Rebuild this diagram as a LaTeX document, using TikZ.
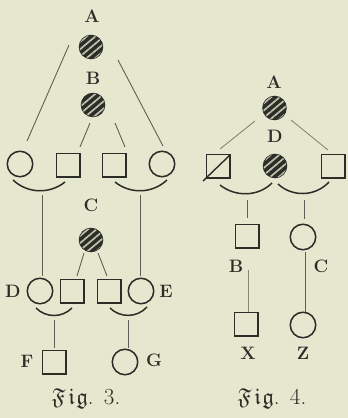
\documentclass[tikz,border=0pt]{standalone}
\usepackage{amssymb}
\usetikzlibrary{patterns.meta}
\definecolor{bg}{RGB}{229,231,207}
\definecolor{ink}{RGB}{45,45,40}
\definecolor{lin}{RGB}{95,95,88}
\newcommand{\frakfig}{$\mathfrak{F}\mkern2mu\mathfrak{i}\mkern1mu\mathfrak{g}$.}
\tikzset{
  sq/.style={draw=ink,line width=1.5pt,minimum size=23.5pt,inner sep=0pt},
  ci/.style={draw=ink,circle,line width=1.5pt,minimum size=25.5pt,inner sep=0pt},
  hat/.style={draw=ink,circle,line width=1.5pt,minimum size=23pt,inner sep=0pt,fill=ink,
    postaction={pattern={Lines[angle=40,distance=5.5pt,line width=1.7pt]},pattern color=bg!80!ink}},
  lab/.style={text=ink,font=\fontsize{18}{21}\selectfont\bfseries,inner sep=0pt},
  figcaption/.style={text=ink,font=\fontsize{23}{26}\selectfont,inner sep=0pt},
  con/.style={draw=lin,line width=0.9pt},
  arcl/.style={draw=ink,line width=1.5pt},
}
\begin{document}
\begin{tikzpicture}[x=1pt,y=-1pt]
\fill[bg] (0,0) rectangle (348,418);
\useasboundingbox (0,0) rectangle (348,418);
% ---------- Fig. 3 ----------
\node[lab] (lA3) at (92,16) {A};
\node[hat] (cA3) at (91,47) {};
\node[lab] (lB3) at (93,78) {B};
\node[hat] (cB3) at (93,105) {};
\node[ci] (p1) at (20,164) {};
\node[sq] (p2) at (68,165) {};
\node[sq] (p3) at (114,165) {};
\node[ci] (p4) at (162,164) {};
\coordinate (a1) at (69,45);  \coordinate (a2) at (27,141);
\coordinate (a3) at (118,60); \coordinate (a4) at (163,146);
\coordinate (b1) at (90,123); \coordinate (b2) at (80,147);
\coordinate (b3) at (115,123);\coordinate (b4) at (125,147);
\draw[con] (a1) -- (a2);
\draw[con] (a3) -- (a4);
\draw[con] (b1) -- (b2);
\draw[con] (b3) -- (b4);
\coordinate (m1s) at (13,180); \coordinate (m1e) at (65,182);
\coordinate (m2s) at (115,182); \coordinate (m2e) at (167,180);
\draw[arcl] (m1s) .. controls (28,194) and (50,194) .. (m1e);
\draw[arcl] (m2s) .. controls (130,194) and (152,194) .. (m2e);
\coordinate (v1a) at (42,195); \coordinate (v1b) at (42,276);
\coordinate (v2a) at (140,195); \coordinate (v2b) at (140,276);
\draw[con] (v1a) -- (v1b);
\draw[con] (v2a) -- (v2b);
\node[lab] (lC3) at (91,205) {C};
\node[hat] (cC3) at (91,240) {};
\coordinate (c1) at (84,253); \coordinate (c2) at (77,276);
\coordinate (c3) at (98,253); \coordinate (c4) at (107,276);
\draw[con] (c1) -- (c2);
\draw[con] (c3) -- (c4);
\node[lab] (lD3) at (13,291) {D};
\node[ci] (qD) at (40,291) {};
\node[sq] (q2) at (72,291) {};
\node[sq] (q3) at (109,291) {};
\node[ci] (qE) at (141,291) {};
\node[lab] (lE3) at (166,291) {E};
\coordinate (n1s) at (36,308); \coordinate (n1e) at (72,308);
\coordinate (n2s) at (110,308); \coordinate (n2e) at (147,307);
\draw[arcl] (n1s) .. controls (46,318) and (62,318) .. (n1e);
\draw[arcl] (n2s) .. controls (120,318) and (137,318) .. (n2e);
\coordinate (v3a) at (54,320); \coordinate (v3b) at (54,348);
\coordinate (v4a) at (128,320); \coordinate (v4b) at (128,348);
\draw[con] (v3a) -- (v3b);
\draw[con] (v4a) -- (v4b);
\node[lab] (lF3) at (27,361) {F};
\node[sq] (sF) at (54,362) {};
\node[ci] (cG) at (125,362) {};
\node[lab] (lG3) at (154,360) {G};
\node[figcaption] (fig3) at (86,399) {\frakfig\hspace{0.45em}3.};
% ---------- Fig. 4 ----------
\node[lab] (lA4) at (274,82) {A};
\node[hat] (cA4) at (274.5,108) {};
\node[lab] (lD4) at (275,136) {D};
\node[hat] (cD4) at (275,166) {};
\node[sq] (x1) at (218,166) {};
\node[sq] (x2) at (333,166) {};
\coordinate (dg1) at (203,181); \coordinate (dg2) at (230,155);
\draw[ink,line width=1.4pt] (dg1) -- (dg2);
\coordinate (e1) at (255,121); \coordinate (e2) at (220,149);
\coordinate (e3) at (291,120); \coordinate (e4) at (328,150);
\draw[con,draw=lin!70!bg] (e1) -- (e2);
\draw[con,draw=lin!70!bg] (e3) -- (e4);
\coordinate (k1s) at (220,185); \coordinate (k1e) at (272,183);
\coordinate (k2s) at (278,184); \coordinate (k2e) at (329,182);
\draw[arcl] (k1s) .. controls (235,197) and (258,197) .. (k1e);
\draw[arcl] (k2s) .. controls (292,197) and (315,197) .. (k2e);
\coordinate (v5a) at (247,200); \coordinate (v5b) at (247,218);
\coordinate (v6a) at (304,200); \coordinate (v6b) at (304,219);
\draw[con] (v5a) -- (v5b);
\draw[con] (v6a) -- (v6b);
\node[sq] (sB) at (247,236) {};
\node[ci] (cC) at (303,237) {};
\node[lab] (lB4) at (236,266) {B};
\node[lab] (lC4) at (321,266) {C};
\coordinate (v7a) at (248,270); \coordinate (v7b) at (248,312);
\coordinate (v8a) at (305,252); \coordinate (v8b) at (305,312);
\draw[con,draw=lin!70!bg] (v7a) -- (v7b);
\draw[con] (v8a) -- (v8b);
\node[sq] (sX) at (246,324) {};
\node[ci] (cZ) at (303,325) {};
\node[lab] (lX4) at (248,353) {X};
\node[lab] (lZ4) at (303,353) {Z};
\node[figcaption] (fig4) at (272,399) {\frakfig\hspace{0.45em}4.};
\end{tikzpicture}
\end{document}
